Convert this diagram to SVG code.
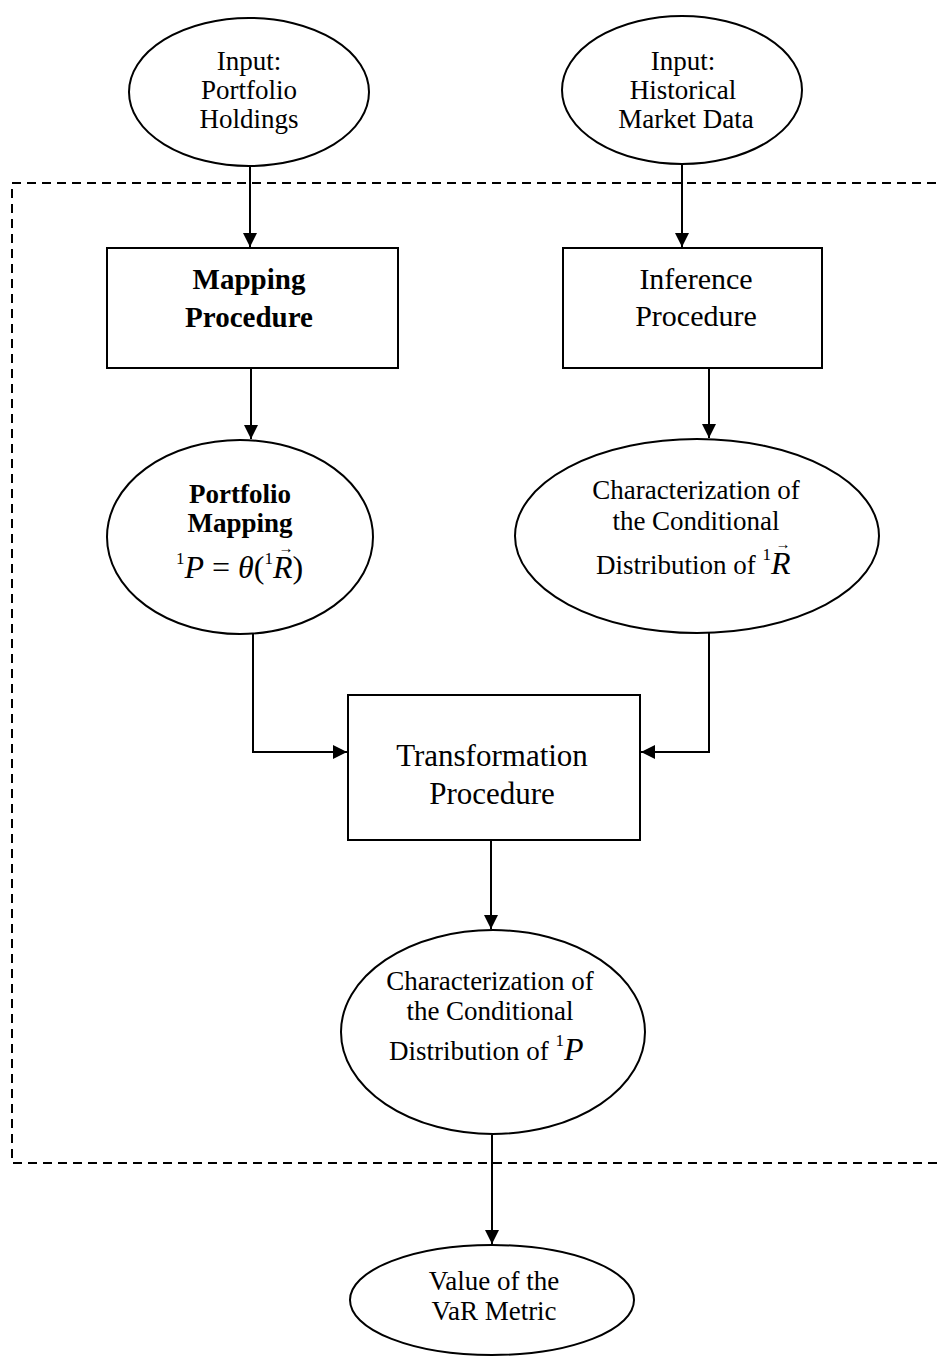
<svg xmlns="http://www.w3.org/2000/svg" width="937" height="1357" viewBox="0 0 937 1357">
<style>
.s{fill:#fff;stroke:#000;stroke-width:2}
.t{font-family:"Liberation Serif","Times New Roman",serif;fill:#000;text-anchor:middle}
.st{text-anchor:start}
.m{font-size:27px}
.l{font-size:30px}
.b{font-weight:bold}
.i{font-style:italic}
.sup{font-size:17px}
.v{font-size:15px}
.c{fill:none;stroke:#000;stroke-width:2}
.d{fill:none;stroke:#000;stroke-width:2;stroke-dasharray:9,6}
</style>
<defs>
<marker id="a" viewBox="0 0 10 10" refX="10" refY="5" markerWidth="14" markerHeight="14" markerUnits="userSpaceOnUse" orient="auto">
<path d="M0,0 L10,5 L0,10 z" fill="#000"/>
</marker>
</defs>
<rect class="d" x="12" y="183" width="940" height="980"/>
<g id="connectors">
<path class="c" d="M250,167 V247" marker-end="url(#a)"/>
<path class="c" d="M682,165 V247" marker-end="url(#a)"/>
<path class="c" d="M251,368 V439" marker-end="url(#a)"/>
<path class="c" d="M709,368 V438" marker-end="url(#a)"/>
<path class="c" d="M253,634 V752 H347" marker-end="url(#a)"/>
<path class="c" d="M709,632 V752 H641" marker-end="url(#a)"/>
<path class="c" d="M491,840 V929" marker-end="url(#a)"/>
<path class="c" d="M492,1135 V1244" marker-end="url(#a)"/>
</g>
<g id="input-portfolio">
<ellipse class="s" cx="249" cy="92" rx="120" ry="74"/>
<text class="t m" x="249" y="70">Input:</text>
<text class="t m" x="249" y="99">Portfolio</text>
<text class="t m" x="249" y="128">Holdings</text>
</g>
<g id="input-market">
<ellipse class="s" cx="682" cy="90" rx="120" ry="74"/>
<text class="t m" x="683" y="70">Input:</text>
<text class="t m" x="683" y="99">Historical</text>
<text class="t m" x="686" y="128">Market Data</text>
</g>
<g id="mapping">
<rect class="s" x="107" y="248" width="291" height="120"/>
<text class="t b" style="font-size:29px" x="249" y="289">Mapping</text>
<text class="t b" style="font-size:29px" x="249" y="327">Procedure</text>
</g>
<g id="inference">
<rect class="s" x="563" y="248" width="259" height="120"/>
<text class="t l" x="696" y="289">Inference</text>
<text class="t l" x="696" y="326">Procedure</text>
</g>
<g id="portfolio-mapping">
<ellipse class="s" cx="240" cy="537" rx="133" ry="97"/>
<text class="t m b" x="240" y="503">Portfolio</text>
<text class="t m b" x="240" y="532">Mapping</text>
<text class="t st" x="176" y="578" style="font-size:32px"><tspan class="sup" dy="-14">1</tspan><tspan class="i" dy="14">P</tspan> = <tspan class="i">θ</tspan>(<tspan class="sup" dy="-14">1</tspan><tspan class="i" dy="14">R</tspan>)</text>
<text class="t v" x="286" y="553">→</text>
</g>
<g id="char-r">
<ellipse class="s" cx="697" cy="536" rx="182" ry="97"/>
<text class="t m" x="696" y="499">Characterization of</text>
<text class="t m" x="696" y="530">the Conditional</text>
<text class="t m st" x="596" y="574">Distribution of <tspan style="font-size:17px" dy="-14">1</tspan><tspan class="i" style="font-size:32px" dy="14">R</tspan></text>
<text class="t v" x="783" y="549">→</text>
</g>
<g id="transformation">
<rect class="s" x="348" y="695" width="292" height="145"/>
<text class="t" style="font-size:31px" x="492" y="766">Transformation</text>
<text class="t" style="font-size:31px" x="492" y="804">Procedure</text>
</g>
<g id="char-p">
<ellipse class="s" cx="493" cy="1032" rx="152" ry="102"/>
<text class="t m" x="490" y="990">Characterization of</text>
<text class="t m" x="490" y="1020">the Conditional</text>
<text class="t m st" x="389" y="1060">Distribution of <tspan style="font-size:17px" dy="-14">1</tspan><tspan class="i" style="font-size:32px" dy="14">P</tspan></text>
</g>
<g id="var">
<ellipse class="s" cx="492" cy="1300" rx="142" ry="55"/>
<text class="t m" x="494" y="1290">Value of the</text>
<text class="t m" x="494" y="1320">VaR Metric</text>
</g>
</svg>
